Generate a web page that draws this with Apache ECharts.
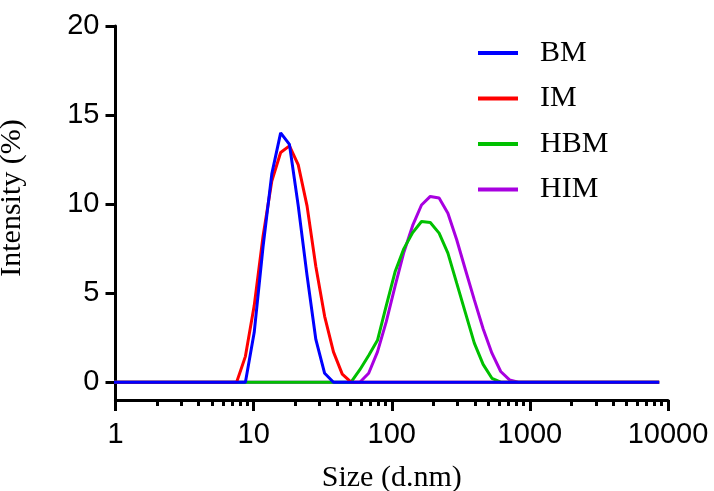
<!DOCTYPE html>
<html>
<head>
<meta charset="utf-8">
<script src="https://cdn.jsdelivr.net/npm/echarts@6/dist/echarts.min.js"></script>
<style>
  html, body { margin: 0; padding: 0; background: #fff; }
  #chart { width: 714px; height: 491px; }
</style>
</head>
<body>
<div id="chart"></div>
<script>
// Size bins (d.nm), log-spaced
var sizes = [0.9649, 1.117, 1.294, 1.499, 1.736, 2.010, 2.328, 2.696, 3.122, 3.615,
  4.187, 4.849, 5.615, 6.503, 7.531, 8.721, 10.10, 11.70, 13.54, 15.69,
  18.17, 21.04, 24.36, 28.21, 32.67, 37.84, 43.82, 50.75, 58.77, 68.06,
  78.82, 91.28, 105.7, 122.4, 141.8, 164.2, 190.1, 220.2, 255.0, 295.3,
  342.0, 396.1, 458.7, 531.2, 615.1, 712.4, 825.0, 955.4, 1106, 1281,
  1484, 1718, 1990, 2305, 2669, 3091, 3580, 4145, 4801, 5560,
  6439, 7456, 8635];

// Intensity (%) per bin
var bm = [0, 0, 0, 0, 0, 0, 0, 0, 0, 0,
  0, 0, 0, 0, 0, 0, 2.8, 7.6, 11.7, 14.0,
  13.35, 9.9, 6.0, 2.4, 0.5, 0, 0, 0, 0, 0,
  0, 0, 0, 0, 0, 0, 0, 0, 0, 0,
  0, 0, 0, 0, 0, 0, 0, 0, 0, 0,
  0, 0, 0, 0, 0, 0, 0, 0, 0, 0,
  0, 0, 0];
var im = [0, 0, 0, 0, 0, 0, 0, 0, 0, 0,
  0, 0, 0, 0, 0, 1.45, 4.3, 8.2, 11.3, 12.9,
  13.27, 12.2, 9.9, 6.5, 3.7, 1.7, 0.45, 0, 0, 0,
  0, 0, 0, 0, 0, 0, 0, 0, 0, 0,
  0, 0, 0, 0, 0, 0, 0, 0, 0, 0,
  0, 0, 0, 0, 0, 0, 0, 0, 0, 0,
  0, 0, 0];
var hbm = [0, 0, 0, 0, 0, 0, 0, 0, 0, 0,
  0, 0, 0, 0, 0, 0, 0, 0, 0, 0,
  0, 0, 0, 0, 0, 0, 0, 0, 0.7, 1.5,
  2.35, 4.3, 6.2, 7.5, 8.4, 9.02, 8.97, 8.37, 7.25, 5.56,
  3.88, 2.19, 1.0, 0.22, 0, 0, 0, 0, 0, 0,
  0, 0, 0, 0, 0, 0, 0, 0, 0, 0,
  0, 0, 0];
var him = [0, 0, 0, 0, 0, 0, 0, 0, 0, 0,
  0, 0, 0, 0, 0, 0, 0, 0, 0, 0,
  0, 0, 0, 0, 0, 0, 0, 0, 0, 0.5,
  1.7, 3.4, 5.4, 7.3, 8.8, 9.95, 10.43, 10.34, 9.49, 8.0,
  6.3, 4.62, 3.0, 1.63, 0.6, 0.13, 0, 0, 0, 0,
  0, 0, 0, 0, 0, 0, 0, 0, 0, 0,
  0, 0, 0];

var seriesNames = ['BM', 'IM', 'HBM', 'HIM'];
var seriesValues = [bm, im, hbm, him];
var seriesColors = ['#0000ff', '#ff0000', '#00c000', '#a800e0'];

var yTickValues = [0, 5, 10, 15, 20];
var xMinorTicks = [2, 3, 4, 5, 6, 7, 8, 9, 20, 30, 40, 50, 60, 70, 80, 90,
  200, 300, 400, 500, 600, 700, 800, 900, 2000, 3000, 4000, 5000, 6000, 7000, 8000, 9000];

function pairs(vals) {
  return sizes.map(function (s, i) { return [s, vals[i]]; });
}

var serif = '"Liberation Serif", "DejaVu Serif", serif';
var sans = '"Liberation Sans", Arial, sans-serif';

var chart = echarts.init(document.getElementById('chart'), null, { renderer: 'canvas' });

chart.setOption({
  animation: false,
  backgroundColor: '#fff',
  grid: { left: 115.5, right: 46, top: 26, bottom: 91, containLabel: false, outerBoundsMode: 'none' },
  legend: {
    data: seriesNames,
    orient: 'vertical',
    left: 473,
    top: 33,
    padding: 5,
    icon: 'rect',
    itemWidth: 40,
    itemHeight: 4,
    itemGap: 15.5,
    textStyle: { fontFamily: serif, fontSize: 30, color: '#000', padding: [0, 0, 0, 17] }
  },
  xAxis: [{
    type: 'log',
    logBase: 10,
    min: 1,
    max: 10000,
    name: 'Size (d.nm)',
    nameLocation: 'middle',
    nameGap: 63,
    nameTextStyle: { fontFamily: serif, fontSize: 30, color: '#000' },
    axisLine: { show: true, onZero: false, lineStyle: { color: '#000', width: 3 } },
    axisTick: { show: true, inside: false, length: 11, lineStyle: { color: '#000', width: 3 } },
    axisLabel: {
      fontFamily: sans, fontSize: 29, color: '#000', margin: 20,
      formatter: function (v) { return String(Math.round(v)); }
    },
    splitLine: { show: false }
  }, {
    type: 'log',
    logBase: 10,
    min: 1,
    max: 10000,
    position: 'bottom',
    axisLine: { show: false, onZero: false },
    axisTick: { show: true, length: 6, customValues: xMinorTicks, lineStyle: { color: '#000', width: 3 } },
    axisLabel: { show: false },
    splitLine: { show: false }
  }],
  yAxis: {
    type: 'value',
    min: -1,
    max: 20,
    name: 'Intensity (%)',
    nameLocation: 'middle',
    nameRotate: 90,
    nameGap: 88,
    nameTextStyle: { fontFamily: serif, fontSize: 30, color: '#000', padding: [0, 0, 0, 30] },
    axisLine: { show: true, lineStyle: { color: '#000', width: 3 } },
    axisTick: { show: true, length: 10, customValues: yTickValues, lineStyle: { color: '#000', width: 3 } },
    axisLabel: { fontFamily: sans, fontSize: 29, color: '#000', margin: 16, customValues: yTickValues },
    splitLine: { show: false }
  },
  series: seriesNames.map(function (name, k) {
    return {
      name: name,
      type: 'line',
      xAxisIndex: 0,
      data: pairs(seriesValues[k]),
      showSymbol: false,
      symbol: 'none',
      clip: true,
      z: 10 - k,
      lineStyle: { color: seriesColors[k], width: 3 },
      itemStyle: { color: seriesColors[k] }
    };
  })
});
</script>
</body>
</html>
